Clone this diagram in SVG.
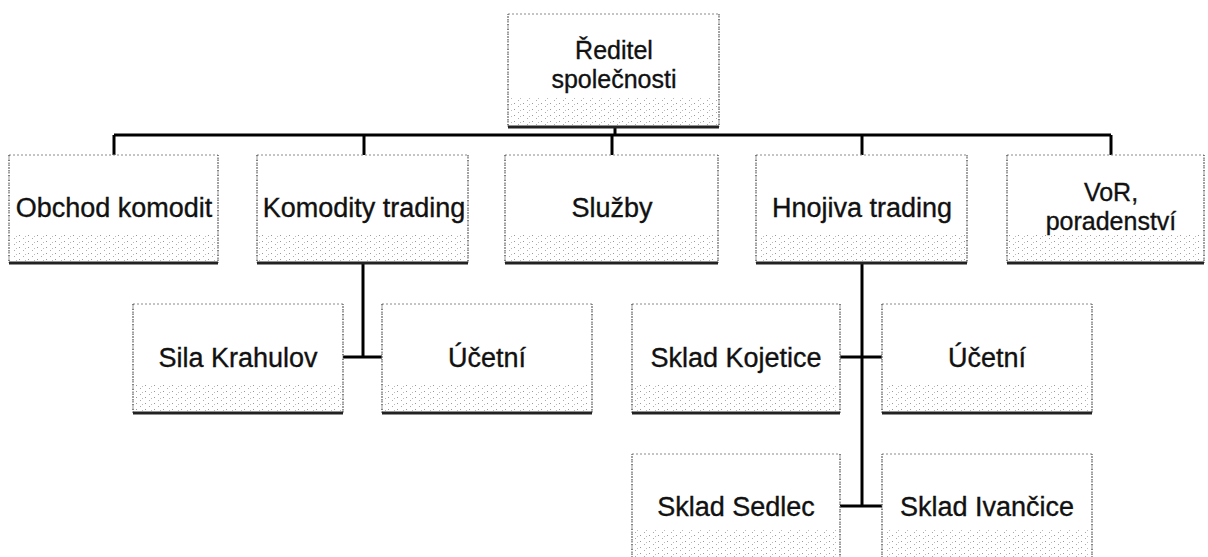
<svg xmlns="http://www.w3.org/2000/svg" width="1208" height="557" viewBox="0 0 1208 557">
<style>
.box{fill:#fff;stroke:#8a8a8a;stroke-width:1;stroke-dasharray:2 2}
.side{stroke:#555;stroke-width:1.2;stroke-dasharray:1 1.5}
.bot{stroke:#222;stroke-width:3}
.stip{fill:url(#dots)}
.t{font-family:"Liberation Sans",Arial,sans-serif;font-size:27px;fill:#111;stroke:#111;stroke-width:0.35;text-anchor:middle}
.t2{font-size:25px}
.c{stroke:#000;stroke-width:3;fill:none}
</style>
<defs>
<pattern id="dots" width="9" height="6" patternUnits="userSpaceOnUse">
<rect x="1" y="1" width="1" height="1" fill="#999"/>
<rect x="5" y="4" width="1" height="1" fill="#aaa"/>
<rect x="7" y="2" width="1" height="1" fill="#bbb"/>
</pattern>
</defs>
<rect width="1208" height="557" fill="#fff"/>
<g id="connectors">
<line class="c" x1="615" y1="127" x2="615" y2="135"/>
<line class="c" x1="114" y1="135" x2="1111" y2="135"/>
<line class="c" x1="114" y1="135" x2="114" y2="155"/>
<line class="c" x1="364" y1="135" x2="364" y2="155"/>
<line class="c" x1="612" y1="135" x2="612" y2="155"/>
<line class="c" x1="862" y1="135" x2="862" y2="155"/>
<line class="c" x1="1111" y1="135" x2="1111" y2="155"/>
<line class="c" x1="363" y1="263" x2="363" y2="357"/>
<line class="c" x1="343" y1="357" x2="382" y2="357"/>
<line class="c" x1="862" y1="263" x2="862" y2="506"/>
<line class="c" x1="840" y1="357" x2="882" y2="357"/>
<line class="c" x1="840" y1="506" x2="882" y2="506"/>
</g>
<g id="n-reditel">
<rect class="box" x="508" y="14" width="211" height="113"/>
<rect class="stip" x="510" y="98" width="207" height="27"/>
<line class="side" x1="508" y1="14" x2="508" y2="127"/><line class="side" x1="719" y1="14" x2="719" y2="127"/>
<line class="bot" x1="508" y1="127" x2="719" y2="127"/>
<text class="t t2" x="614" y="59">Ředitel</text>
<text class="t t2" x="614" y="88">společnosti</text>
</g>
<g id="n-obchod">
<rect class="box" x="9" y="155" width="209" height="108"/>
<rect class="stip" x="11" y="234" width="205" height="27"/>
<line class="side" x1="9" y1="155" x2="9" y2="263"/><line class="side" x1="218" y1="155" x2="218" y2="263"/>
<line class="bot" x1="9" y1="263" x2="218" y2="263"/>
<text class="t" x="114" y="217">Obchod komodit</text>
</g>
<g id="n-komodity">
<rect class="box" x="257" y="155" width="211" height="108"/>
<rect class="stip" x="259" y="234" width="207" height="27"/>
<line class="side" x1="257" y1="155" x2="257" y2="263"/><line class="side" x1="468" y1="155" x2="468" y2="263"/>
<line class="bot" x1="257" y1="263" x2="468" y2="263"/>
<text class="t" x="364" y="217">Komodity trading</text>
</g>
<g id="n-sluzby">
<rect class="box" x="505" y="155" width="213" height="108"/>
<rect class="stip" x="507" y="234" width="209" height="27"/>
<line class="side" x1="505" y1="155" x2="505" y2="263"/><line class="side" x1="718" y1="155" x2="718" y2="263"/>
<line class="bot" x1="505" y1="263" x2="718" y2="263"/>
<text class="t" x="612" y="217">Služby</text>
</g>
<g id="n-hnojiva">
<rect class="box" x="756" y="155" width="211" height="108"/>
<rect class="stip" x="758" y="234" width="207" height="27"/>
<line class="side" x1="756" y1="155" x2="756" y2="263"/><line class="side" x1="967" y1="155" x2="967" y2="263"/>
<line class="bot" x1="756" y1="263" x2="967" y2="263"/>
<text class="t" x="862" y="217">Hnojiva trading</text>
</g>
<g id="n-vor">
<rect class="box" x="1007" y="155" width="197" height="108"/>
<rect class="stip" x="1009" y="234" width="193" height="27"/>
<line class="side" x1="1007" y1="155" x2="1007" y2="263"/><line class="side" x1="1204" y1="155" x2="1204" y2="263"/>
<line class="bot" x1="1007" y1="263" x2="1204" y2="263"/>
<text class="t t2" x="1111" y="201">VoR,</text>
<text class="t t2" x="1111" y="230">poradenství</text>
</g>
<g id="n-sila">
<rect class="box" x="133" y="304" width="210" height="109"/>
<rect class="stip" x="135" y="384" width="206" height="27"/>
<line class="side" x1="133" y1="304" x2="133" y2="413"/><line class="side" x1="343" y1="304" x2="343" y2="413"/>
<line class="bot" x1="133" y1="413" x2="343" y2="413"/>
<text class="t" x="238" y="367">Sila Krahulov</text>
</g>
<g id="n-ucetni1">
<rect class="box" x="382" y="304" width="210" height="109"/>
<rect class="stip" x="384" y="384" width="206" height="27"/>
<line class="side" x1="382" y1="304" x2="382" y2="413"/><line class="side" x1="592" y1="304" x2="592" y2="413"/>
<line class="bot" x1="382" y1="413" x2="592" y2="413"/>
<text class="t" x="487" y="367">Účetní</text>
</g>
<g id="n-kojetice">
<rect class="box" x="632" y="304" width="208" height="109"/>
<rect class="stip" x="634" y="384" width="204" height="27"/>
<line class="side" x1="632" y1="304" x2="632" y2="413"/><line class="side" x1="840" y1="304" x2="840" y2="413"/>
<line class="bot" x1="632" y1="413" x2="840" y2="413"/>
<text class="t" x="736" y="367">Sklad Kojetice</text>
</g>
<g id="n-ucetni2">
<rect class="box" x="882" y="304" width="210" height="109"/>
<rect class="stip" x="884" y="384" width="206" height="27"/>
<line class="side" x1="882" y1="304" x2="882" y2="413"/><line class="side" x1="1092" y1="304" x2="1092" y2="413"/>
<line class="bot" x1="882" y1="413" x2="1092" y2="413"/>
<text class="t" x="987" y="367">Účetní</text>
</g>
<g id="n-sedlec">
<rect class="box" x="632" y="454" width="208" height="112"/>
<rect class="stip" x="634" y="530" width="204" height="27"/>
<line class="side" x1="632" y1="454" x2="632" y2="557"/><line class="side" x1="840" y1="454" x2="840" y2="557"/>
<text class="t" x="736" y="516">Sklad Sedlec</text>
</g>
<g id="n-ivancice">
<rect class="box" x="882" y="454" width="210" height="112"/>
<rect class="stip" x="884" y="530" width="206" height="27"/>
<line class="side" x1="882" y1="454" x2="882" y2="557"/><line class="side" x1="1092" y1="454" x2="1092" y2="557"/>
<text class="t" x="987" y="516">Sklad Ivančice</text>
</g>
</svg>
